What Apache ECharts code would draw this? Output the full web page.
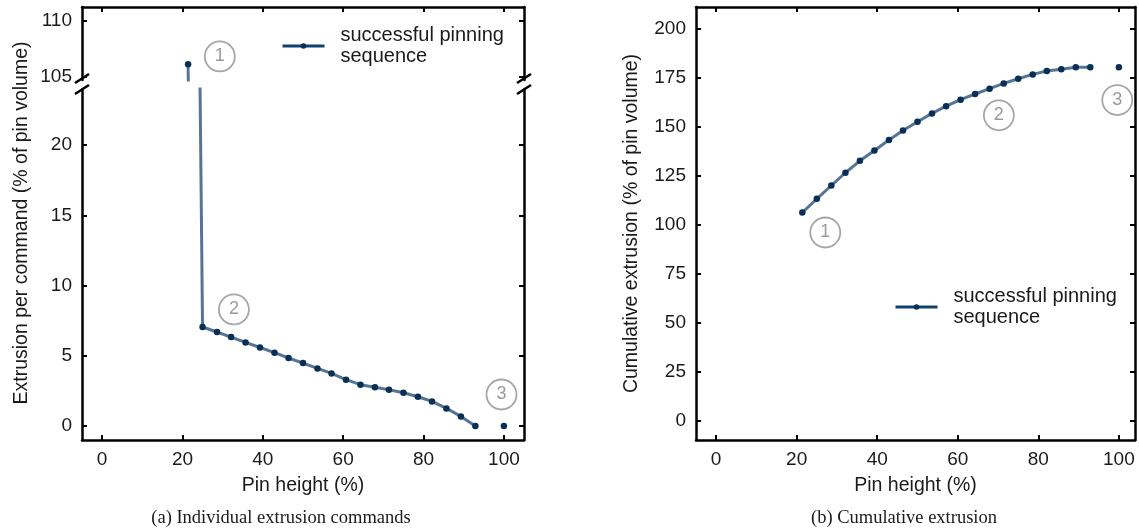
<!DOCTYPE html>
<html>
	<head>
		<meta charset="utf-8">
		<title></title>
		<script src="https://cdn.jsdelivr.net/npm/echarts@6/dist/echarts.min.js"></script>
		<style>
			body{margin:0;background:#fff;}
		</style>
	</head>
	<body>
		<div id="my" style="width:1139px;height:531px;"></div>

		<script>
			// pin height of each command (%)
			var pinHeight = [21.4, 25.0, 28.6, 32.1, 35.7, 39.3, 42.9, 46.4, 50.0, 53.6, 57.1,
				60.7, 64.3, 67.9, 71.4, 75.0, 78.6, 82.1, 85.7, 89.3, 92.9];
			// extrusion per command (% of pin volume)
			var extrusion = [106.1, 7.05, 6.69, 6.33, 5.95, 5.59, 5.22, 4.84, 4.48, 4.10, 3.74,
				3.30, 2.94, 2.75, 2.58, 2.37, 2.08, 1.75, 1.25, 0.68, 0.0];
			// cumulative extrusion (% of pin volume)
			var cumulative = [106.1, 113.1, 119.9, 126.4, 132.5, 137.8, 143.1, 148.0, 152.4, 156.7, 160.4,
				163.7, 166.6, 169.3, 172.0, 174.4, 176.6, 178.3, 179.2, 180.2, 180.2];
			// last point, not joined to the sequence
			var finalHeight = 100;
			var finalExtrusion = 0;
			var finalCumulative = 180.2;

			var xTicks = [0, 20, 40, 60, 80, 100];
			var yTicksUpper = [105, 110];
			var yTicksLower = [0, 5, 10, 15, 20];
			var yTicksCum = [0, 25, 50, 75, 100, 125, 150, 175, 200];

			var seriesName = 'successful pinning sequence';
			var font = 'Liberation Sans, Arial, sans-serif';

			function pairs(xs, ys){
				var out = [];
				for (var i = 0; i < xs.length; i++) out.push([xs[i], ys[i]]);
				return out;
			}

			function axis(ticks, grid, pos, showLabel, min, max){
				return {
					type: 'value',
					gridIndex: grid,
					position: pos,
					min: min,
					max: max,
					axisLine: {show: true, onZero: false, lineStyle: {color: '#000', width: 2.5}},
					axisTick: {show: true, inside: true, length: 5, customValues: ticks,
						lineStyle: {color: '#000', width: 2}},
					axisLabel: {show: showLabel, customValues: ticks, margin: 10,
						color: '#1a1a1a', fontSize: 19, fontFamily: font},
					splitLine: {show: false}
				};
			}

			function ring(n, x, y){
				return {coord: [x, y], value: n};
			}
			var ringStyle = {
				symbol: 'circle',
				symbolSize: 30,
				itemStyle: {color: 'rgba(255,255,255,0)', borderColor: '#a6a6a6', borderWidth: 1.8},
				label: {show: true, position: 'inside', formatter: '{c}', color: '#9a9a9a',
					fontSize: 18, fontFamily: font}
			};

			var lineStyle = {color: '#0e3a66', opacity: 0.7, width: 3};
			var pointStyle = {color: '#083057'};

			function legend(left, top){
				return {
					data: [seriesName], left: left, top: top, padding: 0,
					itemWidth: 42, itemHeight: 7,
					lineStyle: {width: 3, opacity: 1, color: '#12406d'},
					formatter: 'successful pinning\nsequence',
					textStyle: {fontSize: 20, lineHeight: 21, color: '#1a1a1a', fontFamily: font,
						padding: [0, 0, 0, 11]}
				};
			}

			var myChart = echarts.init(document.getElementById('my'));

			var xUp = axis(xTicks, 0, 'top', false, -5, 105);
			var xLow = axis(xTicks, 1, 'bottom', true, -5, 105);
			var xCum = axis(xTicks, 2, 'bottom', true, -5, 104);
			var xCumTop = axis(xTicks, 2, 'top', false, -5, 104);
			[xLow, xCum].forEach(function(a){
				a.name = 'Pin height (%)';
				a.nameLocation = 'middle';
				a.nameGap = 36;
				a.nameTextStyle = {fontSize: 19.5, color: '#1a1a1a', fontFamily: font};
			});

			var yCum = axis(yTicksCum, 2, 'left', true, -10, 211);
			yCum.name = 'Cumulative extrusion (% of pin volume)';
			yCum.nameLocation = 'middle';
			yCum.nameGap = 54;
			yCum.nameTextStyle = {fontSize: 19.5, color: '#1a1a1a', fontFamily: font};

			var option = {
				animation: false,
				grid: [
					{left: 82, width: 442, top: 7, height: 73},
					{left: 82, width: 442, top: 89, height: 351},
					{left: 696, width: 439, top: 7, height: 433}
				],
				xAxis: [xUp, xLow, xCum, xCumTop],
				yAxis: [
					axis(yTicksUpper, 0, 'left', true, 104.7, 111.2),
					axis(yTicksUpper, 0, 'right', false, 104.7, 111.2),
					axis(yTicksLower, 1, 'left', true, -1, 24),
					axis(yTicksLower, 1, 'right', false, -1, 24),
					yCum,
					axis(yTicksCum, 2, 'right', false, -10, 211)
				],
				legend: [legend(281, 25), legend(894, 286)],
				graphic: [
					{type: 'text', x: 22, y: 223, rotation: Math.PI / 2,
						style: {text: 'Extrusion per command (% of pin volume)', fontSize: 19.5,
							fontFamily: font, fill: '#1a1a1a', align: 'center', verticalAlign: 'middle'}},
					{type: 'text', x: 281, y: 518,
						style: {text: '(a) Individual extrusion commands', fontSize: 18.5,
							fontFamily: 'Liberation Serif, serif', fill: '#1a1a1a', align: 'center', verticalAlign: 'middle'}},
					{type: 'text', x: 904, y: 518,
						style: {text: '(b) Cumulative extrusion', fontSize: 18.5,
							fontFamily: 'Liberation Serif, serif', fill: '#1a1a1a', align: 'center', verticalAlign: 'middle'}},
					// axis break marks
					{type: 'line', shape: {x1: 75, y1: 83, x2: 89, y2: 74}, style: {stroke: '#000', lineWidth: 2.5}},
					{type: 'line', shape: {x1: 75, y1: 94, x2: 89, y2: 85}, style: {stroke: '#000', lineWidth: 2.5}},
					{type: 'line', shape: {x1: 517, y1: 83, x2: 531, y2: 74}, style: {stroke: '#000', lineWidth: 2.5}},
					{type: 'line', shape: {x1: 517, y1: 94, x2: 531, y2: 85}, style: {stroke: '#000', lineWidth: 2.5}}
				],
				series: [
					{
						name: seriesName, type: 'line', xAxisIndex: 0, yAxisIndex: 0,
						data: pairs(pinHeight, extrusion), clip: true,
						symbol: 'circle', symbolSize: 6.5, itemStyle: pointStyle, lineStyle: lineStyle,
						markPoint: Object.assign({data: [ring(1, 29.3, 106.8)]}, ringStyle)
					},
					{
						name: seriesName, type: 'line', xAxisIndex: 1, yAxisIndex: 2,
						data: pairs(pinHeight, extrusion), clip: true,
						symbol: 'circle', symbolSize: 6.5, itemStyle: pointStyle, lineStyle: lineStyle,
						markPoint: Object.assign({data: [ring(2, 32.8, 8.3), ring(3, 99.4, 2.24)]}, ringStyle)
					},
					{
						name: 'final', type: 'line', xAxisIndex: 1, yAxisIndex: 2,
						data: [[finalHeight, finalExtrusion]],
						symbol: 'circle', symbolSize: 6.5, itemStyle: pointStyle, lineStyle: lineStyle
					},
					{
						name: seriesName, type: 'line', xAxisIndex: 2, yAxisIndex: 4,
						data: pairs(pinHeight, cumulative), clip: true,
						symbol: 'circle', symbolSize: 6.5, itemStyle: pointStyle, lineStyle: lineStyle,
						markPoint: Object.assign({data: [ring(1, 27.1, 95.9), ring(2, 70.2, 155.7), ring(3, 99.6, 163.5)]}, ringStyle)
					},
					{
						name: 'final', type: 'line', xAxisIndex: 2, yAxisIndex: 4,
						data: [[finalHeight, finalCumulative]],
						symbol: 'circle', symbolSize: 6.5, itemStyle: pointStyle, lineStyle: lineStyle
					}
				]
			};

			myChart.setOption(option);
		</script>
	</body>
</html>
